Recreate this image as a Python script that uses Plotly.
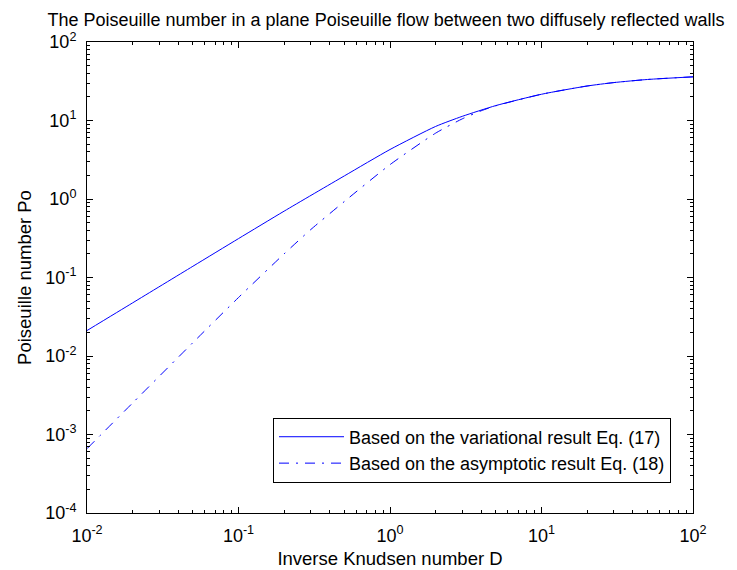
import plotly.graph_objects as go

# Inverse Knudsen number D and Poiseuille number Po
D_var = [0.01, 0.02, 0.05, 0.1, 0.2, 0.5, 1, 2, 3, 5, 10, 20, 30, 50, 100]
Po_var = [0.0211, 0.0475, 0.139, 0.313, 0.70, 1.97, 4.27, 8.4, 11.3, 15.5, 21.6, 27.5, 30.4, 33.3, 36.0]

D_asym = [0.01, 0.02, 0.05, 0.1, 0.2, 0.3, 0.5, 1, 2, 3, 4, 5, 10, 20, 30, 50, 100]
Po_asym = [6.6e-4, 2.52e-3, 0.0148, 0.0556, 0.2, 0.408, 0.93, 2.74, 6.9, 10.5, 13.3, 15.4, 21.6, 27.5, 30.4, 33.3, 36.0]

name_var = "Based on the variational result Eq. (17)"
name_asym = "Based on the asymptotic result Eq. (18)"

x_exps = [-2, -1, 0, 1, 2]
y_exps = [-4, -3, -2, -1, 0, 1, 2]

FONT = "Liberation Sans, Arial, Helvetica, sans-serif"
FS = 18

fig = go.Figure()
fig.add_trace(go.Scatter(x=D_var, y=Po_var, mode="lines", name=name_var,
                         line=dict(color="#0000ff", width=1, shape="spline", smoothing=0.6)))
fig.add_trace(go.Scatter(x=D_asym, y=Po_asym, mode="lines", name=name_asym,
                         line=dict(color="#0000ff", width=1, dash="10px,7px,2px,7px",
                                   shape="spline", smoothing=0.6)))

def minor_vals(exps):
    vals = []
    for e in exps[:-1]:
        for m in range(2, 10):
            vals.append(m * 10 ** e)
    return vals

axis_common = dict(
    type="log", showline=True, linecolor="black", linewidth=1, mirror="ticks",
    ticks="inside", ticklen=6, tickcolor="black", tickwidth=1,
    showgrid=False, zeroline=False,
    tickfont=dict(family=FONT, size=FS, color="black"),
)

fig.update_xaxes(
    **axis_common,
    range=[-2, 2],
    tickvals=[10 ** e for e in x_exps],
    ticktext=[f"10<sup>{e}</sup>" for e in x_exps],
    minor=dict(tickvals=minor_vals(x_exps), ticks="inside", ticklen=3, tickcolor="black"),
    ticklabelstandoff=6,
    title=dict(text="Inverse Knudsen number D", font=dict(family=FONT, size=18.5, color="black"), standoff=7),
)
fig.update_yaxes(
    **axis_common,
    range=[-4, 2],
    tickvals=[10 ** e for e in y_exps],
    ticktext=[f"10<sup>{e}</sup>" for e in y_exps],
    minor=dict(tickvals=minor_vals(y_exps), ticks="inside", ticklen=3, tickcolor="black"),
    ticklabelstandoff=6,
    title=dict(text="Poiseuille number Po", font=dict(family=FONT, size=18.5, color="black"), standoff=8),
)

fig.update_layout(
    width=737, height=570,
    margin=dict(l=79, r=52, t=34, b=57),
    paper_bgcolor="white", plot_bgcolor="white",
    font=dict(family=FONT, size=FS, color="black"),
    title=dict(text="The Poiseuille number in a plane Poiseuille flow between two diffusely reflected walls",
               x=378 / 737, xref="container", xanchor="center",
               y=1 - 12 / 570, yref="container", yanchor="middle",
               font=dict(family=FONT, size=18, color="black")),
    legend=dict(x=0.9637, xanchor="right", y=0.0647, yanchor="bottom",
                xref="paper", yref="paper",
                bgcolor="white", bordercolor="black", borderwidth=1,
                font=dict(family=FONT, size=FS, color="black"),
                itemwidth=65, tracegroupgap=0),
    showlegend=True,
)

fig.write_html("out.html")
